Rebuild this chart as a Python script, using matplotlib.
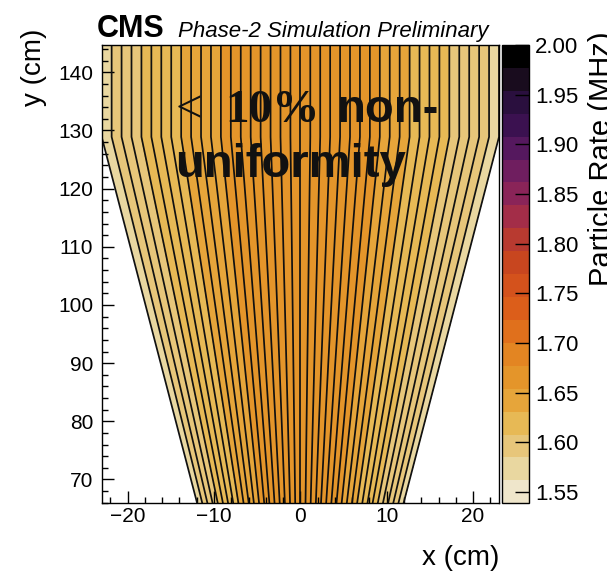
import numpy as np
import matplotlib
matplotlib.use("Agg")
import matplotlib.pyplot as plt
from matplotlib.colors import ListedColormap, BoundaryNorm
from matplotlib.ticker import MultipleLocator, FormatStrFormatter

plt.rcParams['font.family'] = ['Liberation Sans', 'DejaVu Sans']

# ---------------- data ----------------
strip_rates = [1.575, 1.597, 1.600, 1.604, 1.612, 1.618, 1.622, 1.627,
               1.642, 1.636, 1.640, 1.645, 1.660, 1.664, 1.667, 1.669,
               1.670, 1.671, 1.672, 1.672, 1.673, 1.672, 1.671, 1.670,
               1.669, 1.667, 1.664, 1.661, 1.645, 1.641, 1.635, 1.628,
               1.625, 1.620, 1.614, 1.603, 1.600, 1.597, 1.594, 1.573]
palette = ['#efe6cb', '#e9d7a0', '#e7c67a', '#e7b955', '#e6a53a',
           '#e4952a', '#e38522', '#e0701c', '#dc5e1a', '#d4521c',
           '#c8461f', '#b83a30', '#a32d48', '#8a2458', '#6f1e5f',
           '#55185e', '#3b1150', '#2a0f3e', '#190c1e', '#000000']
rate_min, rate_max = 1.5385, 2.00
cbar_ticks = [1.55, 1.60, 1.65, 1.70, 1.75, 1.80, 1.85, 1.90, 1.95, 2.00]

# geometry of the detector (cm)
half_width = 23.0
bend_y = 128.9
apex_y = -2.2
y_low, y_high = 55.0, 155.0

W, H = 607, 572
fig = plt.figure(figsize=(W / 100, H / 100), dpi=100)
ax = fig.add_axes([101.7 / W, 1 - 503.3 / H, (499 - 101.7) / W, (503.3 - 45) / H])

n = len(strip_rates)
edges = np.linspace(-half_width, half_width, n + 1)
scale_low = (y_low - apex_y) / (bend_y - apex_y)
X = np.vstack([edges * scale_low, edges, edges])
Y = np.vstack([np.full(n + 1, y_low), np.full(n + 1, bend_y), np.full(n + 1, y_high)])
C = np.vstack([strip_rates, strip_rates])

cmap = ListedColormap(palette)
norm = BoundaryNorm(np.linspace(rate_min, rate_max, len(palette) + 1), cmap.N)
mesh = ax.pcolormesh(X, Y, C, cmap=cmap, norm=norm, shading='flat',
                     antialiased=False, linewidth=0)
for k in range(n + 1):
    ax.plot(X[:, k], Y[:, k], color='#111111', lw=1.25, solid_joinstyle='miter')

ax.set_xlim(-23, 23)
ax.set_ylim(65.9, 144.7)
ax.xaxis.set_major_locator(MultipleLocator(10))
ax.xaxis.set_minor_locator(MultipleLocator(2))
ax.yaxis.set_major_locator(MultipleLocator(10))
ax.yaxis.set_minor_locator(MultipleLocator(2))
ax.tick_params(which='both', direction='in', top=False, right=False, width=1)
ax.tick_params(which='major', length=8.5, labelsize=15)
ax.tick_params(axis='x', which='major', pad=3)
ax.tick_params(axis='y', which='major', pad=6)
ax.tick_params(which='minor', length=4.5)
for s in ax.spines.values():
    s.set_linewidth(1.0)

# annotation
txt_kw = dict(color='#111111', fontsize=34, va='baseline', ha='left')
ax.text(-14.46, 131.5, '<', family='Liberation Serif', **txt_kw)
ax.text(-8.69, 131.5, '10%', family='Liberation Serif', weight='bold', **txt_kw)
ax.text(4.22, 131.5, 'non-', family='Liberation Sans', weight='bold', **txt_kw)
ax.text(-14.46, 122.0, 'uniformity', family='Liberation Sans', weight='bold', **txt_kw)

# colorbar
cax = fig.add_axes([501.7 / W, 1 - 503.3 / H, 27.6 / W, (503.3 - 45) / H])
cb = fig.colorbar(mesh, cax=cax, ticks=cbar_ticks)
cb.outline.set_linewidth(1.0)
cax.yaxis.set_major_formatter(FormatStrFormatter('%.2f'))
cax.tick_params(direction='in', length=10, width=1, labelsize=16, pad=4)
cax.minorticks_off()

# titles
fig.text(499 / W, 1 - 558 / H, 'x (cm)', ha='right', va='center', fontsize=20)
fig.text(34 / W, 1 - 67 / H, 'y (cm)', rotation=90, ha='center', va='center', fontsize=20)
fig.text(588 / W, 1 - 31 / H, 'Particle Rate (MHz)', rotation=90, ha='left', va='top',
         fontsize=21)
fig.text(97 / W, 1 - 36.8 / H, 'CMS', weight='bold', fontsize=22, va='baseline')
fig.text(178 / W, 1 - 36.8 / H, 'Phase-2 Simulation Preliminary', style='italic',
         fontsize=16, va='baseline')

fig.savefig('out.png', dpi=100)
